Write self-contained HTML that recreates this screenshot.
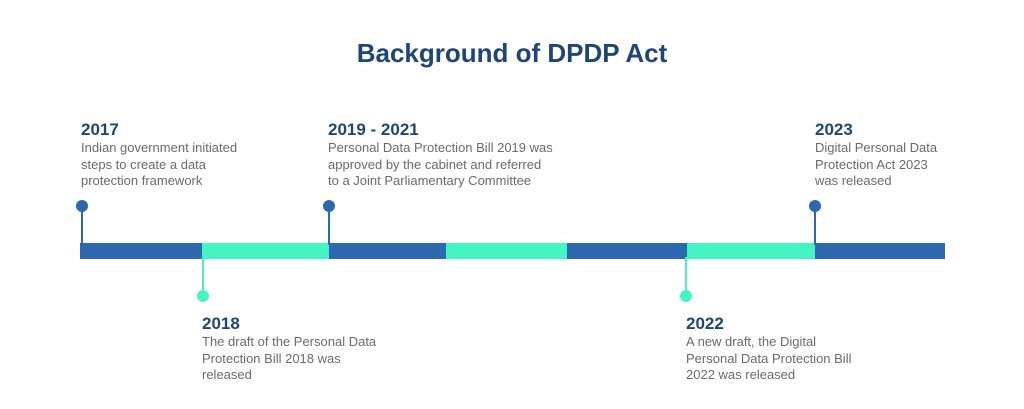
<!DOCTYPE html>
<html><head><meta charset="utf-8"><style>
body{margin:0;width:1024px;height:409px;background:#fff;font-family:"Liberation Sans",sans-serif;position:relative;overflow:hidden}
.t{position:absolute;left:0;width:1024px;top:38px;text-align:center;font-size:26px;font-weight:bold;color:#1f4577}
.ev{position:absolute;color:#6b6b6b;font-size:13px;line-height:16.5px}
.ev b{display:block;color:#1f4577;font-size:17px;line-height:20px}
</style></head><body>
<div class="t">Background of DPDP Act</div>
<svg width="1024" height="409" style="position:absolute;left:0;top:0"></svg>
<div class="ev" style="left:81px;top:120px"><b>2017</b>Indian government initiated<br>steps to create a data<br>protection framework</div>
<div class="ev" style="left:328px;top:120px"><b>2019 - 2021</b>Personal Data Protection Bill 2019 was<br>approved by the cabinet and referred<br>to a Joint Parliamentary Committee</div>
<div class="ev" style="left:815px;top:120px"><b>2023</b>Digital Personal Data<br>Protection Act 2023<br>was released</div>
<div class="ev" style="left:202px;top:314px"><b>2018</b>The draft of the Personal Data<br>Protection Bill 2018 was<br>released</div>
<div class="ev" style="left:686px;top:314px"><b>2022</b>A new draft, the Digital<br>Personal Data Protection Bill<br>2022 was released</div>
<script>
const segStarts=[80,202,329,446,567,687,815,945];
const markerX=[82,203,329,686,815];
const markerUp=[true,false,true,false,true];
const svg=document.querySelector('svg');const NS='http://www.w3.org/2000/svg';
const B='#2e68b0',G='#42f5c2';
for(let i=0;i<segStarts.length-1;i++){const r=document.createElementNS(NS,'rect');
r.setAttribute('x',segStarts[i]);r.setAttribute('y',243);r.setAttribute('width',segStarts[i+1]-segStarts[i]);r.setAttribute('height',16);r.setAttribute('fill',i%2?G:B);


svg.appendChild(r);}
markerX.forEach((x,i)=>{const up=markerUp[i],c=up?B:G,cy=up?206:296;
const l=document.createElementNS(NS,'line');l.setAttribute('x1',x);l.setAttribute('x2',x);l.setAttribute('y1',cy);l.setAttribute('y2',up?245:257);l.setAttribute('stroke',c);l.setAttribute('stroke-width',2);


svg.appendChild(l);
const ci=document.createElementNS(NS,'circle');ci.setAttribute('cx',x);ci.setAttribute('cy',cy);ci.setAttribute('r',6);ci.setAttribute('fill',c);


svg.appendChild(ci);});
</script>
</body></html>
